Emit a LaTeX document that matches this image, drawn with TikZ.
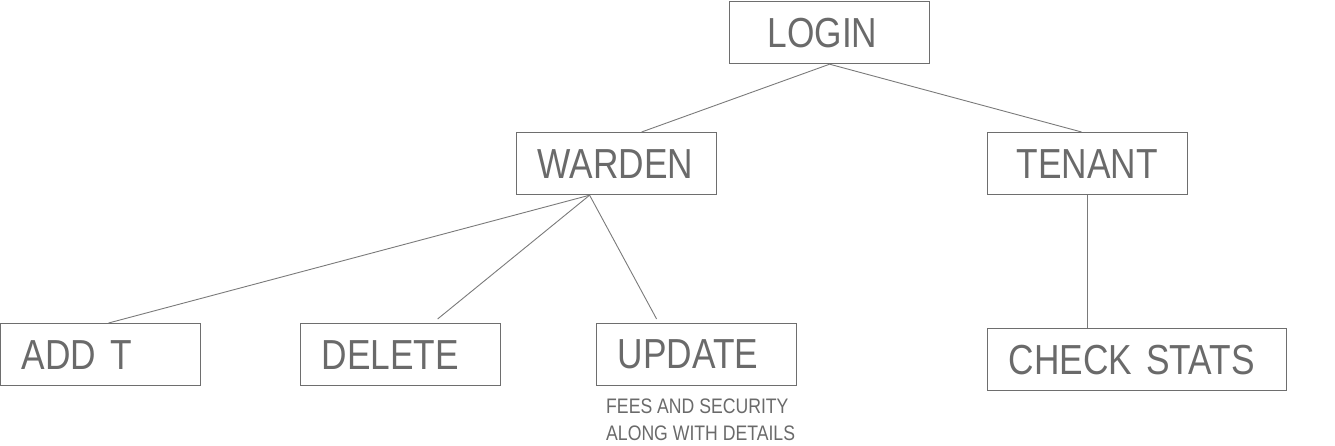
\documentclass[tikz,border=0pt]{standalone}
\usepackage{fontspec}
\setmainfont[FakeStretch=0.84]{Liberation Sans}
\definecolor{boxc}{HTML}{6E6E6E}
\definecolor{txtc}{HTML}{6A6A6A}
\definecolor{linec}{HTML}{7A7A7A}
\tikzset{
  box/.style={draw=boxc, line width=1.2pt, minimum height=62pt, inner xsep=0pt, inner ysep=0pt,
    text width=#1, align=left, text=txtc, font=\fontsize{42pt}{44pt}\selectfont, anchor=north west},
  conn/.style={draw=linec, line width=0.9pt},
  note/.style={inner sep=0pt, align=left, text=txtc, font=\fontsize{21pt}{27pt}\selectfont, anchor=north west}
}
\begin{document}
\begin{tikzpicture}[x=1pt,y=-1pt]
\useasboundingbox (0,0) rectangle (1335,446);
\node[box=200pt] (login)  at (729,1)   {\hspace*{38pt}LOGIN};
\node[box=200pt] (warden) at (516,132) {\hspace*{21pt}WARDEN};
\node[box=200pt] (tenant) at (987,132) {\hspace*{29pt}TENANT};
\node[box=200pt] (addt)   at (0,323)   {\hspace*{21pt}ADD T};
\node[box=200pt] (delete) at (300,323) {\hspace*{21pt}DELETE};
\node[box=200pt] (update) at (596,323) {\hspace*{21pt}UPDATE};
\node[box=299pt] (check)  at (987,328) {\hspace*{21pt}CHECK STATS};
\node[note] (fees) at (606,399) {FEES AND SECURITY\\ALONG WITH DETAILS};
\draw[conn] (login.south) -- ([xshift=25pt]warden.north);
\draw[conn] (login.south) -- ([xshift=-6pt]tenant.north);
\draw[conn] ([xshift=-27pt]warden.south) -- ([xshift=8pt]addt.north);
\draw[conn] ([xshift=-27pt]warden.south) -- ([xshift=37pt,yshift=4pt]delete.north);
\draw[conn] ([xshift=-27pt]warden.south) -- ([xshift=-40pt,yshift=4pt]update.north);
\draw[conn] (tenant.south) -- (tenant.south |- check.north);
\end{tikzpicture}
\end{document}
